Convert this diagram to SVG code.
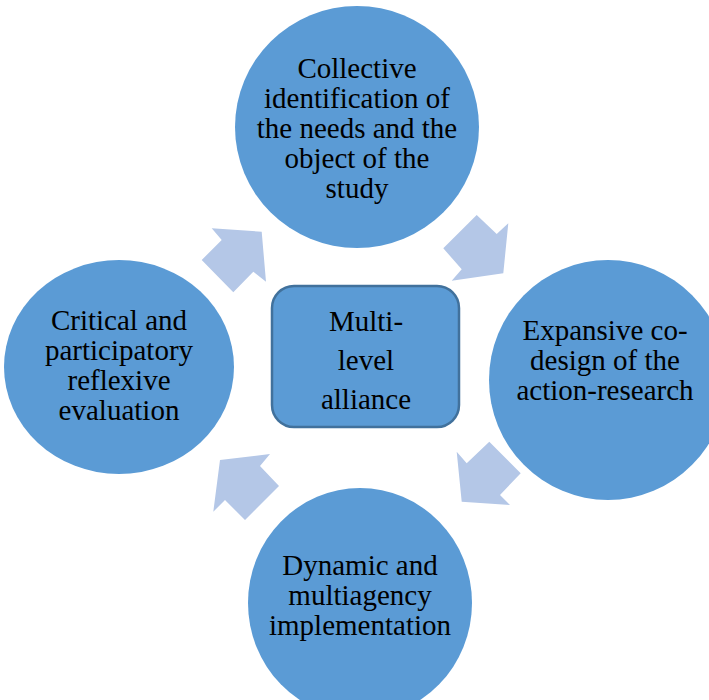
<svg xmlns="http://www.w3.org/2000/svg" width="709" height="700" viewBox="0 0 709 700">
  <style>
    .stage { fill: #5b9bd5; }
    .hub { fill: #5b9bd5; stroke: #41719c; stroke-width: 2.5; }
    .flow { fill: #b4c7e7; }
    text { font-family: "Liberation Serif", "Times New Roman", serif; font-size: 29px; fill: #000; text-anchor: middle; }
  </style>
  <rect width="709" height="700" fill="#ffffff"/>

  <!-- block arrows between the stages -->
  <g id="connectors">
    <polygon class="flow" points="211.7,228.3 261.7,231.7 266,281.7 253.3,271.7 233.3,292.3 201.7,260 221.7,240"/>
    <polygon class="flow" points="476.7,215 496.7,234 508.3,223.3 503.3,273.3 451.7,280.7 461.7,269.3 443.3,248.3"/>
    <polygon class="flow" points="489.3,441.7 520.7,473.3 500,495 510,505 461.7,501.7 456.7,451.7 466.7,463.3"/>
    <polygon class="flow" points="270,454 260,466 279,486 245,520 225,500 213.3,511.7 220,460"/>
  </g>

  <g id="stage-identification">
    <ellipse class="stage" cx="357" cy="127" rx="122" ry="121"/>
    <text x="357" y="78">Collective</text>
    <text x="357" y="108">identification of</text>
    <text x="357" y="138">the needs and the</text>
    <text x="357" y="168">object of the</text>
    <text x="357" y="198">study</text>
  </g>

  <g id="stage-codesign">
    <ellipse class="stage" cx="608" cy="380" rx="119" ry="120"/>
    <text x="605" y="340">Expansive co-</text>
    <text x="605" y="370">design of the</text>
    <text x="605" y="400">action-research</text>
  </g>

  <g id="stage-implementation">
    <ellipse class="stage" cx="360" cy="603" rx="112" ry="115"/>
    <text x="360" y="575">Dynamic and</text>
    <text x="360" y="605">multiagency</text>
    <text x="360" y="635">implementation</text>
  </g>

  <g id="stage-evaluation">
    <ellipse class="stage" cx="119" cy="367" rx="115" ry="107"/>
    <text x="119" y="330">Critical and</text>
    <text x="119" y="360">participatory</text>
    <text x="119" y="390">reflexive</text>
    <text x="119" y="420">evaluation</text>
  </g>

  <g id="hub-alliance">
    <rect class="hub" x="272" y="286" width="187" height="141" rx="22" ry="22"/>
    <text x="366" y="331">Multi-</text>
    <text x="366" y="370">level</text>
    <text x="366" y="409">alliance</text>
  </g>
</svg>
